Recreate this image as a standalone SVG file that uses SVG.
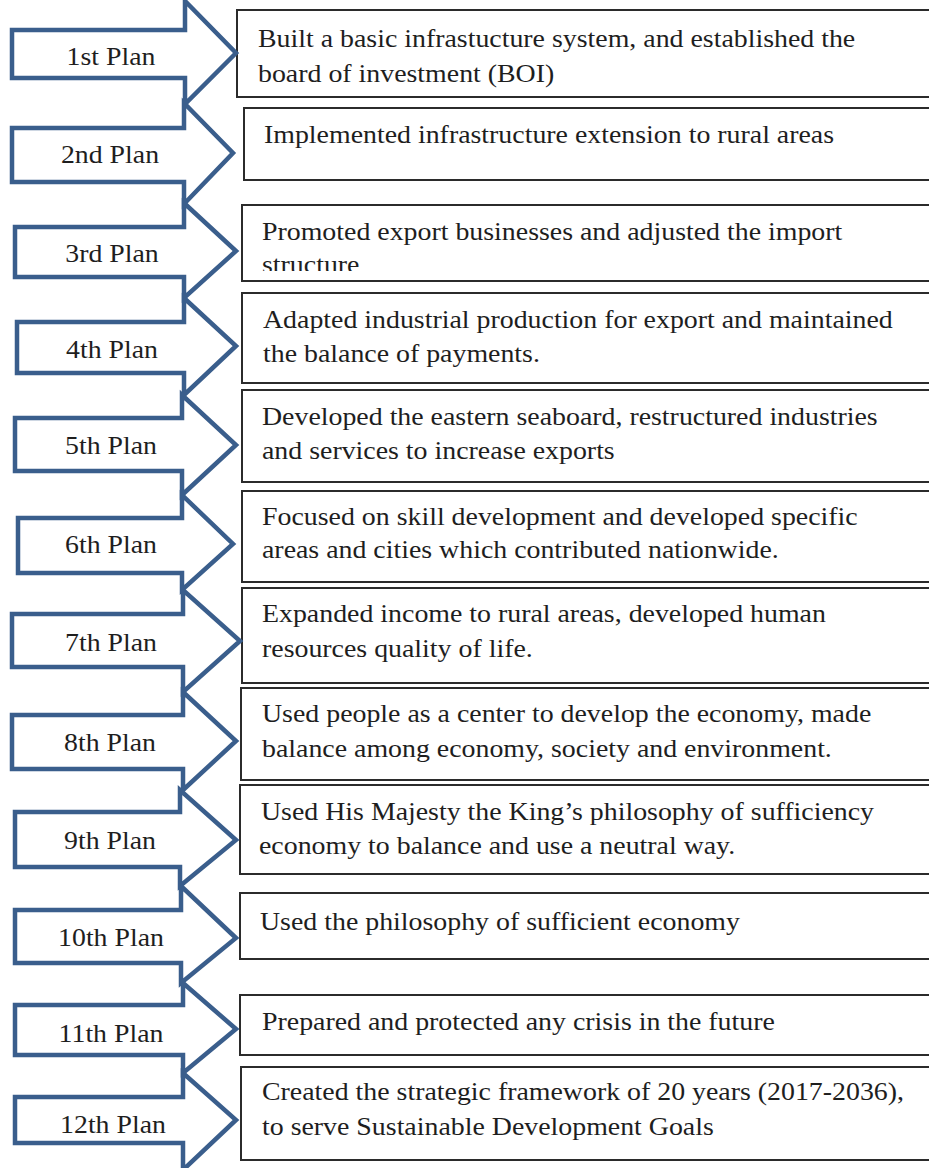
<svg xmlns="http://www.w3.org/2000/svg" width="929" height="1168" viewBox="0 0 929 1168">
<style>
.arrow{fill:#ffffff;stroke:#3a5e8c;stroke-width:4.5;stroke-linejoin:miter}
.box{fill:#ffffff;stroke:#2b2b2b;stroke-width:2}
.lbl{font-family:"Liberation Serif","Times New Roman",serif;font-size:26px;fill:#1e1e1e;text-anchor:middle}
.txt{font-family:"Liberation Serif","Times New Roman",serif;font-size:26px;fill:#1e1e1e}
</style>
<defs>
<clipPath id="clip3"><rect x="240" y="200" width="700" height="71"/></clipPath>
</defs>
<rect width="929" height="1168" fill="#ffffff"/>
<g id="connectors"></g>
<g id="desc-1"><rect class="box" x="237" y="10" width="710" height="87"/>
<text class="txt" transform="translate(258 47) scale(1.072 1)">Built a basic infrastucture system, and established the</text>
<text class="txt" transform="translate(258 82) scale(1.072 1)">board of investment (BOI)</text></g>
<g id="desc-2"><rect class="box" x="244" y="108" width="710" height="72"/>
<text class="txt" transform="translate(264 143) scale(1.072 1)">Implemented infrastructure extension to rural areas</text></g>
<g id="desc-3"><rect class="box" x="242" y="205" width="710" height="76"/>
<text class="txt" transform="translate(262 240) scale(1.072 1)">Promoted export businesses and adjusted the import</text>
<g clip-path="url(#clip3)"><text class="txt" transform="translate(262 273) scale(1.072 1)">structure</text></g></g>
<g id="desc-4"><rect class="box" x="242" y="293" width="710" height="90"/>
<text class="txt" transform="translate(263 328) scale(1.072 1)">Adapted industrial production for export and maintained</text>
<text class="txt" transform="translate(263 362) scale(1.072 1)">the balance of payments.</text></g>
<g id="desc-5"><rect class="box" x="242" y="390" width="710" height="92"/>
<text class="txt" transform="translate(262 425) scale(1.072 1)">Developed the eastern seaboard, restructured industries</text>
<text class="txt" transform="translate(262 459) scale(1.072 1)">and services to increase exports</text></g>
<g id="desc-6"><rect class="box" x="242" y="491" width="710" height="91"/>
<text class="txt" transform="translate(262 525) scale(1.072 1)">Focused on skill development and developed specific</text>
<text class="txt" transform="translate(262 558) scale(1.072 1)">areas and cities which contributed nationwide.</text></g>
<g id="desc-7"><rect class="box" x="242" y="588" width="710" height="95"/>
<text class="txt" transform="translate(262 622) scale(1.072 1)">Expanded income to rural areas, developed human</text>
<text class="txt" transform="translate(262 657) scale(1.072 1)">resources quality of life.</text></g>
<g id="desc-8"><rect class="box" x="241" y="688" width="710" height="92"/>
<text class="txt" transform="translate(262 722) scale(1.072 1)">Used people as a center to develop the economy, made</text>
<text class="txt" transform="translate(262 757) scale(1.072 1)">balance among economy, society and environment.</text></g>
<g id="desc-9"><rect class="box" x="240" y="785" width="710" height="89"/>
<text class="txt" transform="translate(261 820) scale(1.072 1)">Used His Majesty the King’s philosophy of sufficiency</text>
<text class="txt" transform="translate(259 854) scale(1.072 1)">economy to balance and use a neutral way.</text></g>
<g id="desc-10"><rect class="box" x="240" y="893" width="710" height="66"/>
<text class="txt" transform="translate(260 930) scale(1.072 1)">Used the philosophy of sufficient economy</text></g>
<g id="desc-11"><rect class="box" x="240" y="995" width="710" height="60"/>
<text class="txt" transform="translate(262 1030) scale(1.072 1)">Prepared and protected any crisis in the future</text></g>
<g id="desc-12"><rect class="box" x="241" y="1067" width="710" height="93"/>
<text class="txt" transform="translate(262 1100) scale(1.072 1)">Created the strategic framework of 20 years (2017-2036),</text>
<text class="txt" transform="translate(262 1135) scale(1.072 1)">to serve Sustainable Development Goals</text></g>

<g id="plan-1"><polygon class="arrow" points="12,30 185,30 185,1 236,53 185,104 185,78 12,78"/>
<text class="lbl" transform="translate(111 65) scale(1.07 1)">1st Plan</text></g>
<g id="plan-2"><polygon class="arrow" points="12,128 184,128 184,103 233,153 184,204 184,182 12,182"/>
<text class="lbl" transform="translate(110 163) scale(1.07 1)">2nd Plan</text></g>
<g id="plan-3"><polygon class="arrow" points="15,227 184,227 184,203 236,251 184,298 184,277 15,277"/>
<text class="lbl" transform="translate(112 262) scale(1.07 1)">3rd Plan</text></g>
<g id="plan-4"><polygon class="arrow" points="17,322 184,322 184,298 236,346 184,395 184,373 17,373"/>
<text class="lbl" transform="translate(112 358) scale(1.07 1)">4th Plan</text></g>
<g id="plan-5"><polygon class="arrow" points="15,418 182,418 182,395 236,445 182,495 182,471 15,471"/>
<text class="lbl" transform="translate(111 454) scale(1.07 1)">5th Plan</text></g>
<g id="plan-6"><polygon class="arrow" points="18,518 182,518 182,495 233,544 182,590 182,573 18,573"/>
<text class="lbl" transform="translate(111 553) scale(1.07 1)">6th Plan</text></g>
<g id="plan-7"><polygon class="arrow" points="12,614 183,614 183,590 240,641 183,692 183,667 12,667"/>
<text class="lbl" transform="translate(111 651) scale(1.07 1)">7th Plan</text></g>
<g id="plan-8"><polygon class="arrow" points="12,715 183,715 183,692 236,741 183,790 183,769 12,769"/>
<text class="lbl" transform="translate(110 751) scale(1.07 1)">8th Plan</text></g>
<g id="plan-9"><polygon class="arrow" points="15,812 180,812 180,790 236,840 180,886 180,867 15,867"/>
<text class="lbl" transform="translate(110 849) scale(1.07 1)">9th Plan</text></g>
<g id="plan-10"><polygon class="arrow" points="15,910 181,910 181,886 236,938 181,983 181,963 15,963"/>
<text class="lbl" transform="translate(111 946) scale(1.07 1)">10th Plan</text></g>
<g id="plan-11"><polygon class="arrow" points="15,1005 183,1005 183,983 236,1029 183,1073 183,1055 15,1055"/>
<text class="lbl" transform="translate(111 1042) scale(1.07 1)">11th Plan</text></g>
<g id="plan-12"><polygon class="arrow" points="15,1097 183,1097 183,1073 236,1120 183,1170 183,1143 15,1143"/>
<text class="lbl" transform="translate(113 1133) scale(1.07 1)">12th Plan</text></g>
</svg>
